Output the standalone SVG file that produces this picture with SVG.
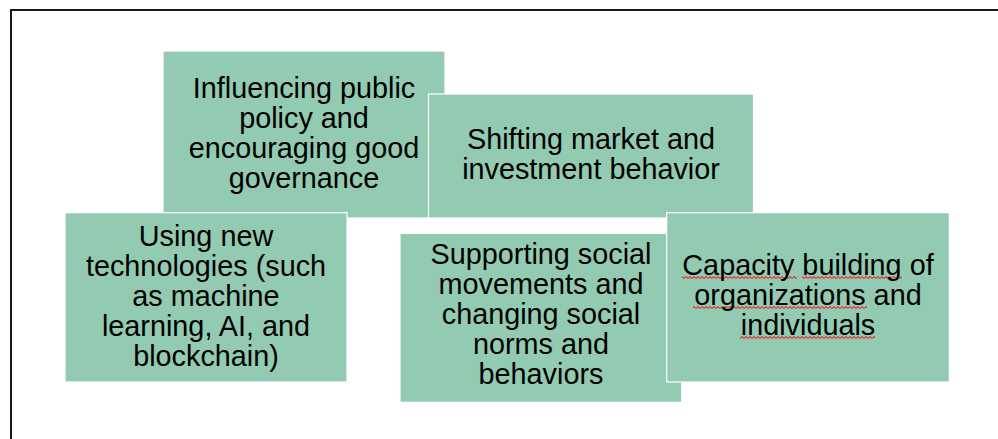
<svg xmlns="http://www.w3.org/2000/svg" width="998" height="439" viewBox="0 0 998 439">
<style>
.box{fill:#92cbb2;stroke:#ffffff;stroke-width:1.2}
.t{font-family:"Liberation Sans",Arial,sans-serif;font-size:28.8px;fill:#000;text-anchor:middle}
.wavy{fill:url(#wave)}
</style>
<defs>
<pattern id="wave" x="0" y="0" width="4" height="3" patternUnits="userSpaceOnUse">
<path d="M0 2.5 L2 0.5 L4 2.5" fill="none" stroke="#e03c3c" stroke-width="1.1"/>
</pattern>
</defs>
<rect x="0" y="0" width="998" height="439" fill="#ffffff"/>
<rect x="11" y="10" width="1000" height="440" fill="none" stroke="#000" stroke-width="1.8"/>
<g id="connectors"></g>
<g id="influencing">
<rect class="box" x="163" y="51" width="282" height="167"/>
<text class="t" x="304" y="97.5">Influencing public</text>
<text class="t" x="304" y="127.5">policy and</text>
<text class="t" x="304" y="157.5">encouraging good</text>
<text class="t" x="304" y="187.5">governance</text>
</g>
<g id="shifting">
<rect class="box" x="428.5" y="94" width="325" height="124"/>
<text class="t" x="591" y="149">Shifting market and</text>
<text class="t" x="591" y="179">investment behavior</text>
</g>
<g id="using">
<rect class="box" x="65" y="212.7" width="282" height="169.3"/>
<text class="t" x="206" y="245.7">Using new</text>
<text class="t" x="206" y="275.7">technologies (such</text>
<text class="t" x="206" y="305.7">as machine</text>
<text class="t" x="206" y="335.7">learning, AI, and</text>
<text class="t" x="206" y="365.7">blockchain)</text>
</g>
<g id="supporting">
<rect class="box" x="400" y="233.3" width="281.7" height="169"/>
<text class="t" x="541" y="264.3">Supporting social</text>
<text class="t" x="541" y="294.3">movements and</text>
<text class="t" x="541" y="324.3">changing social</text>
<text class="t" x="541" y="354.3">norms and</text>
<text class="t" x="541" y="384.3">behaviors</text>
</g>
<g id="capacity">
<rect class="box" x="666.7" y="212.7" width="282.6" height="169.3"/>
<rect class="wavy" x="682" y="276" width="115" height="3"/>
<rect class="wavy" x="802" y="276" width="100" height="3"/>
<rect class="wavy" x="693" y="306" width="174" height="3"/>
<rect class="wavy" x="740" y="336" width="135" height="3"/>
<text class="t" x="808" y="275">Capacity building of</text>
<text class="t" x="808" y="305">organizations and</text>
<text class="t" x="808" y="335">individuals</text>
</g>
</svg>
